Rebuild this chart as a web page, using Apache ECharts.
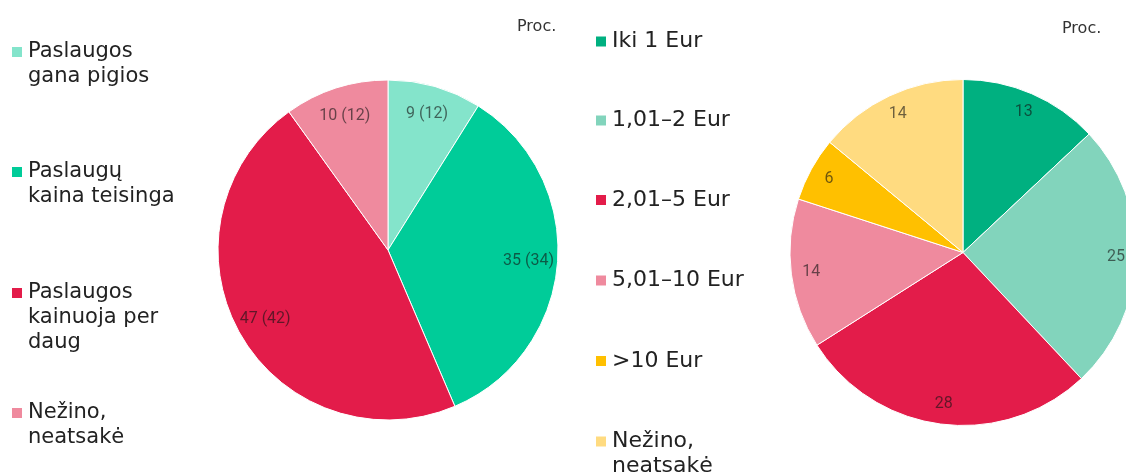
<!DOCTYPE html>
<html>
<head>
<meta charset="utf-8">
<script src="https://cdn.jsdelivr.net/npm/echarts@6/dist/echarts.min.js"></script>
<style>
  html, body { margin: 0; padding: 0; background: #fff; }
  #main { width: 1126px; height: 475px; }
</style>
</head>
<body>
<div id="main"></div>
<script>
// kairos vertinimas (kairė) ir kiek mokėtų (dešinė)
var leftNames = ['Paslaugos\ngana pigios', 'Paslaugų\nkaina teisinga', 'Paslaugos\nkainuoja per\ndaug', 'Nežino,\nneatsakė'];
var leftValues = [9, 35, 47, 10];
var leftPrev = [12, 34, 42, 12];
var leftColors = ['#84E4CB', '#00CC99', '#E31C4A', '#EF8A9E'];

var rightNames = ['Iki 1 Eur', '1,01–2 Eur', '2,01–5 Eur', '5,01–10 Eur', '>10 Eur', 'Nežino,\nneatsakė'];
var rightValues = [13, 25, 28, 14, 6, 14];
var rightColors = ['#00B080', '#82D4BC', '#E31C4A', '#EF8A9E', '#FFC000', '#FFDB80'];

var unitLabel = 'Proc.';

var chart = echarts.init(document.getElementById('main'));

// legendos ikonelė turi būti prie pirmos eilutės
function padLines(name) {
  var n = name.split('\n').length;
  var pad = '';
  for (var i = 1; i < n; i++) pad += ' \n';
  return pad + name;
}

var LH = 25;
function makeLegends(names, colors, left, centers, fs) {
  return names.map(function (nm, i) {
    var lines = nm.split('\n').length * 2 - 1;
    return {
      data: [{ name: nm, itemStyle: { color: colors[i] } }],
      orient: 'vertical',
      left: left,
      top: centers[i] - lines * LH / 2,
      padding: 0,
      itemWidth: 12,
      itemHeight: 12,
      itemGap: 6,
      icon: 'rect',
      selectedMode: false,
      formatter: padLines,
      textStyle: { fontFamily: 'DejaVu Sans', fontSize: fs, lineHeight: LH, color: '#222' }
    };
  });
}

function toData(names, values, colors) {
  return names.map(function (n, i) {
    return { name: n, value: values[i], itemStyle: { color: colors[i] } };
  });
}

var labelStyle = { fontFamily: 'Roboto', fontSize: 16, color: 'rgba(20,20,20,0.62)' };

var option = {
  animation: false,
  title: [
    { text: unitLabel, left: 512, top: 14, textStyle: { fontFamily: 'DejaVu Sans', fontSize: 16, fontWeight: 'normal', color: '#333' } },
    { text: unitLabel, left: 1057, top: 16, textStyle: { fontFamily: 'DejaVu Sans', fontSize: 16, fontWeight: 'normal', color: '#333' } }
  ],
  legend: makeLegends(leftNames, leftColors, 10, [52, 172, 293, 413], 21)
    .concat(makeLegends(rightNames, rightColors, 594, [41.5, 120.5, 200, 280.5, 361, 441.5], 22)),
  series: [
    {
      type: 'pie',
      center: [388, 250],
      radius: [0, 170],
      startAngle: 90,
      clockwise: true,
      silent: true,
      label: { show: false },
      labelLine: { show: false },
      itemStyle: { borderColor: '#fff', borderWidth: 1 },
      data: toData(leftNames, leftValues, leftColors)
    },
    {
      // tik etiketės
      type: 'pie',
      center: [388, 250],
      radius: [106, 170],
      startAngle: 90,
      silent: true,
      itemStyle: { color: 'transparent', borderWidth: 0 },
      label: Object.assign({
        show: true,
        position: 'inside',
        formatter: function (p) { return p.value + ' (' + leftPrev[p.dataIndex] + ')'; }
      }, labelStyle),
      labelLine: { show: false },
      data: leftNames.map(function (n, i) { return { name: n, value: leftValues[i] }; })
    },
    {
      type: 'pie',
      center: [963, 252.5],
      radius: [0, 173],
      startAngle: 90,
      silent: true,
      label: { show: false },
      labelLine: { show: false },
      itemStyle: { borderColor: '#fff', borderWidth: 1 },
      data: toData(rightNames, rightValues, rightColors)
    },
    {
      type: 'pie',
      center: [963, 252.5],
      radius: [127, 173],
      startAngle: 90,
      silent: true,
      itemStyle: { color: 'transparent', borderWidth: 0 },
      label: Object.assign({ show: true, position: 'inside', formatter: '{c}' }, labelStyle),
      labelLine: { show: false },
      data: rightNames.map(function (n, i) { return { name: n, value: rightValues[i] }; })
    }
  ]
};

chart.setOption(option);
</script>
</body>
</html>
